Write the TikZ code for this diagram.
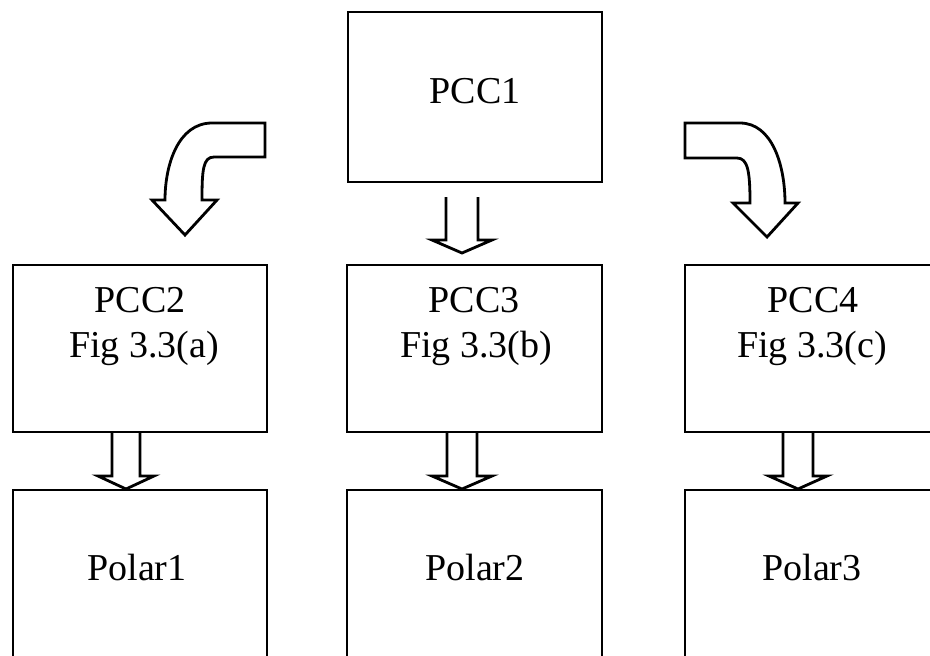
\documentclass[tikz,border=0pt]{standalone}
\usepackage{fontspec}
\setmainfont{Liberation Serif}
\usetikzlibrary{calc}
\tikzset{
  box/.style={draw, line width=1.4pt, rectangle, inner sep=0pt},
  lbl/.style={anchor=base, inner sep=0pt, font=\fontsize{19}{22}\selectfont},
  blockarrow/.style={draw, line width=1.4pt, fill=white, line join=miter}
}
% straight block arrow pointing down:
% #1 centre x, #2 top y, #3 head base y, #4 tip y, #5 shaft half width, #6 head half width
\newcommand\blockdown[6]{%
  \draw[blockarrow] (#1-#5,#2) -- (#1-#5,#3) -- (#1-#6,#3) -- (#1,#4)
    -- (#1+#6,#3) -- (#1+#5,#3) -- (#1+#5,#2);}
\begin{document}
\begin{tikzpicture}[x=0.5pt, y=-0.5pt]
  \clip (0,0) rectangle (930,655);
  \useasboundingbox (0,0) rectangle (930,655);

  % top box
  \node[box, minimum width=127pt, minimum height=85pt] (pcc1) at (475,97) {};
  \node[lbl] (t1) at (475,103) {PCC1};

  % middle row
  \node[box, minimum width=127pt, minimum height=83.5pt] (pcc2) at (140,348.5) {};
  \node[box, minimum width=127.5pt, minimum height=83.5pt] (pcc3) at (474.5,348.5) {};
  \node[box, minimum width=127pt, minimum height=83.5pt] (pcc4) at (812,348.5) {};
  \node[lbl] (t2a) at (140,312) {PCC2};
  \node[lbl] (t2b) at (144,357) {Fig 3.3(a)};
  \node[lbl] (t3a) at (474,312) {PCC3};
  \node[lbl] (t3b) at (476,357) {Fig 3.3(b)};
  \node[lbl] (t4a) at (813,312) {PCC4};
  \node[lbl] (t4b) at (812,357) {Fig 3.3(c)};

  % bottom row
  \node[box, minimum width=127pt, minimum height=90pt] (pol1) at (140,580) {};
  \node[box, minimum width=127.5pt, minimum height=90pt] (pol2) at (474.5,580) {};
  \node[box, minimum width=127pt, minimum height=90pt] (pol3) at (812,580) {};
  \node[lbl] (p1) at (137,580) {Polar1};
  \node[lbl] (p2) at (475,580) {Polar2};
  \node[lbl] (p3) at (812,580) {Polar3};

  % straight block arrows
  \blockdown{462}{197}{240}{253}{16}{30}
  \blockdown{126}{433}{476}{489}{14}{28}
  \blockdown{462}{433}{476}{489}{15}{30}
  \blockdown{798}{433}{476}{489}{15}{29}

  % curved block arrow to the left
  \draw[blockarrow] (265,123) -- (212,123)
    .. controls (178,123) and (165,165) .. (165,200)
    -- (152,200) -- (185,235) -- (217,200) -- (202,200)
    .. controls (202,170) and (203,157) .. (214,157)
    -- (265,157) -- cycle;

  % curved block arrow to the right
  \draw[blockarrow] (685,123) -- (740,123)
    .. controls (772,123) and (785,165) .. (785,203)
    -- (798,203) -- (767,237) -- (733,203) -- (750,203)
    .. controls (750,172) and (748,158) .. (737,158)
    -- (685,158) -- cycle;
\end{tikzpicture}
\end{document}
